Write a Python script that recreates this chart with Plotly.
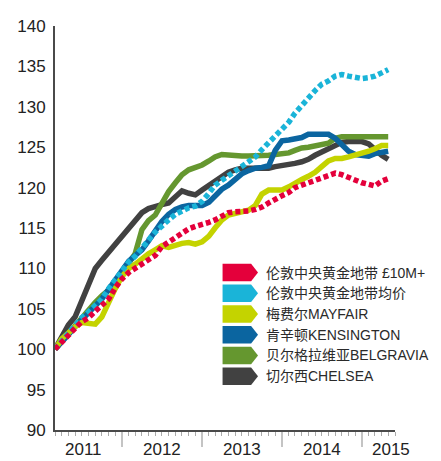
import pandas as pd
import plotly.graph_objects as go

# monthly index values, Mar 2011 = 100
months = pd.date_range("2011-03-01", "2015-05-01", freq="MS")

prime_10m = [100.0, 100.8, 101.8, 102.6, 103.4, 103.9, 104.7, 105.5, 106.2, 107.6,
             108.7, 109.5, 110.0, 110.5, 111.0, 111.6, 112.7, 113.3, 113.9, 114.4,
             114.9, 115.2, 115.4, 115.7, 116.0, 116.5, 116.9, 117.0, 117.0, 117.1,
             117.3, 117.6, 118.1, 118.6, 119.0, 119.4, 120.0, 120.3, 120.6, 120.9,
             121.2, 121.5, 121.8, 121.6, 121.2, 120.9, 120.6, 120.4, 120.2, 120.8, 121.1]
prime_avg = [100.0, 101.0, 102.1, 103.0, 103.9, 104.6, 105.5, 106.2, 107.5, 108.6,
             109.8, 110.8, 111.5, 112.4, 113.5, 114.5, 115.3, 116.0, 116.7, 117.1,
             117.5, 117.7, 118.3, 119.3, 120.3, 120.9, 121.4, 122.0, 122.6, 123.2,
             123.8, 124.7, 125.6, 126.4, 127.3, 128.1, 129.2, 130.2, 131.1, 132.0,
             132.8, 133.2, 133.8, 134.0, 133.8, 133.6, 133.5, 133.6, 133.8, 134.2, 134.6]
mayfair = [100.0, 101.3, 102.0, 102.8, 103.3, 103.2, 103.1, 104.0, 106.0, 107.5,
           109.0, 110.0, 110.5, 111.2, 111.8, 112.3, 112.8, 112.6, 112.9, 113.1,
           113.2, 113.0, 113.3, 114.0, 115.0, 116.0, 116.6, 116.8, 116.9, 117.2,
           117.8, 119.2, 119.7, 119.7, 119.7, 120.1, 120.6, 121.0, 121.4, 121.9,
           122.6, 123.3, 123.6, 123.6, 123.8, 124.0, 124.2, 124.5, 124.8, 125.2, 125.2]
kensington = [100.0, 100.8, 101.8, 102.8, 103.6, 104.4, 105.3, 106.2, 107.4, 108.6,
              109.8, 110.9, 111.6, 112.3, 113.4, 114.7, 115.8, 116.7, 117.3, 117.6,
              117.8, 117.8, 117.8, 118.2, 118.9, 119.8, 120.3, 121.1, 121.7, 122.1,
              122.4, 122.5, 122.7, 124.6, 125.8, 125.9, 126.0, 126.2, 126.6, 126.6,
              126.6, 126.6, 126.1, 125.2, 124.5, 124.1, 124.0, 123.9, 124.2, 124.4, 124.5]
belgravia = [100.0, 101.0, 102.0, 103.0, 104.0, 105.0, 105.8, 106.6, 107.3, 108.2,
             109.5, 110.8, 111.8, 114.8, 115.9, 116.6, 118.0, 119.5, 120.6, 121.6,
             122.2, 122.5, 122.8, 123.3, 123.8, 124.1, 124.0, 123.9, 123.9, 123.9,
             123.9, 123.9, 124.0, 124.1, 124.2, 124.3, 124.6, 124.9, 125.0, 125.2,
             125.3, 125.5, 126.1, 126.3, 126.3, 126.3, 126.3, 126.3, 126.3, 126.3, 126.3]
chelsea = [100.0, 101.5, 103.0, 104.0, 106.0, 108.2, 110.0, 111.0, 112.0, 113.0,
           114.0, 115.0, 116.0, 116.9, 117.4, 117.7, 117.9, 118.1, 118.8, 119.6,
           119.3, 119.1, 119.7, 120.3, 120.9, 121.4, 121.9, 122.2, 122.4, 122.4,
           122.4, 122.4, 122.4, 122.6, 122.7, 122.8, 123.0, 123.2, 123.5, 124.0,
           124.4, 124.9, 125.3, 125.6, 125.7, 125.7, 125.7, 125.4, 124.7, 124.0, 123.5]

names = ["伦敦中央黄金地带 £10M+", "伦敦中央黄金地带均价", "梅费尔MAYFAIR",
         "肯辛顿KENSINGTON", "贝尔格拉维亚BELGRAVIA", "切尔西CHELSEA"]
series = [prime_10m, prime_avg, mayfair, kensington, belgravia, chelsea]
colors = ["#e4003b", "#1ab4d8", "#c4d300", "#0b65a0", "#65972f", "#414141"]
dashes = ["5px,3px", "5px,3px", "solid", "solid", "solid", "solid"]

year_labels = ["2011", "2012", "2013", "2014", "2015"]
year_label_pos = ["2011-07-10", "2012-07-01", "2013-07-01", "2014-07-01", "2015-05-15"]
year_ticks = ["2012-01-01", "2013-01-01", "2014-01-01", "2015-01-01"]

# the page body has an 8px margin, so the figure is a bit smaller
OFF = 8
W, H = 441 - OFF, 461 - OFF
L, R, T, B = 50 - OFF, 46, 17 - OFF, 31
pw, ph = W - L - R, H - T - B


def px(x, y):
    # screen pixel (as in the target) -> paper coords
    return (x - OFF - L) / pw, (H - B - (y - OFF)) / ph


fig = go.Figure()
# draw back to front: chelsea first, red on top
for name, vals, col, dash in reversed(list(zip(names, series, colors, dashes))):
    fig.add_trace(go.Scatter(x=months, y=vals, name=name, mode="lines",
        line=dict(color=col, width=5.5, dash=dash), showlegend=False))

# arrow-shaped legend keys
shapes = []
annotations = []
for i, (name, col) in enumerate(zip(names, colors)):
    top = 260 + i * 21.2
    bot = top + 18
    mid = (top + bot) / 2
    pts = [px(220, top), px(249, top), px(256, mid), px(249, bot), px(220, bot)]
    path = "M " + " L ".join(f"{a:.4f},{b:.4f}" for a, b in pts) + " Z"
    shapes.append(dict(type="path", path=path, xref="paper", yref="paper",
                       fillcolor=col, line=dict(width=0)))
    tx, ty = px(262, mid)
    annotations.append(dict(text=name, x=tx, y=ty, xref="paper", yref="paper",
        xanchor="left", yanchor="middle", showarrow=False,
        font=dict(size=14, color="#2a2a2a", family="Liberation Sans, Noto Sans CJK SC")))

_, ly = px(0, 450)
for lab, pos in zip(year_labels, year_label_pos):
    annotations.append(dict(text=lab, x=pos, y=ly, xref="x", yref="paper",
        xanchor="center", yanchor="middle", showarrow=False,
        font=dict(size=17, color="#222", family="Liberation Sans")))

fig.update_layout(
    width=W, height=H,
    margin=dict(l=L, r=R, t=T, b=B),
    plot_bgcolor="white", paper_bgcolor="white",
    shapes=shapes, annotations=annotations,
    font=dict(family="Liberation Sans", color="#222"),
)
fig.update_xaxes(type="date", range=["2011-03-01", "2015-06-01"],
    showline=True, linecolor="#4a4a4a", linewidth=2, showgrid=False, zeroline=False,
    tickvals=year_ticks, showticklabels=False,
    ticks="outside", ticklen=15, tickcolor="#c4c4c4", tickwidth=1.5,
    minor=dict(ticks="outside", ticklen=4, tickcolor="#aaaaaa", tickwidth=1,
               dtick="M1", tick0="2011-01-01", showgrid=False))
fig.update_yaxes(range=[90, 140], dtick=5, showline=True, linecolor="#4a4a4a",
    linewidth=2, showgrid=False, zeroline=False, ticks="",
    ticklabelstandoff=4, ticklabeloverflow="allow",
    tickfont=dict(size=17, color="#222"))

fig.write_html("out.html")
